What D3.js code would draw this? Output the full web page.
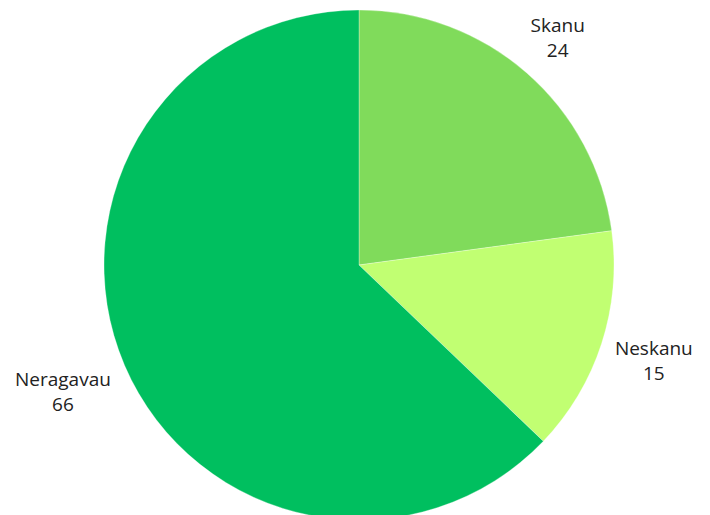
<!DOCTYPE html>
<html>
<head>
<meta charset="utf-8">
<script src="https://cdn.jsdelivr.net/npm/d3@7"></script>
<style>
	body { margin: 0; background: #fff; }
	svg { display: block; }
</style>
</head>
<body>
<svg id="pie-plot" width="710" height="515"></svg>
<script>
const categories = ["Skanu", "Neskanu", "Neragavau"];
const values = [24, 15, 66];
const colors = ["#80db5b", "#c1ff72", "#00bf5f"];

const svg = d3.select('#pie-plot');
const cx = 359, cy = 265, radius = 255;

const pie = d3.pie().sort(null).value(d => d.value);
const data = categories.map((c, i) => ({ name: c, value: values[i], color: colors[i] }));
const arcs = pie(data);

const arc = d3.arc().innerRadius(0).outerRadius(radius);
// labels sit on a ring outside the pie
const label_radius = [302, 310, 322];

const g = svg.append('g').attr('transform', `translate(${cx},${cy})`);

g.selectAll('.slice')
	.data(arcs)
	.enter()
	.append('path')
	.classed('slice', true)
	.attr('d', arc)
	.style('fill', d => d.data.color)
	.style('stroke', '#ffffff')
	.style('stroke-width', 0.6)
	.style('stroke-opacity', 0.5);

const labels = g.selectAll('.label')
	.data(arcs)
	.enter()
	.append('text')
	.classed('label', true)
	.attr('transform', (d, i) => {
		const la = d3.arc().innerRadius(label_radius[i]).outerRadius(label_radius[i]);
		const p = la.centroid(d);
		return `translate(${p[0]},${p[1]})`;
	})
	.attr('text-anchor', 'middle')
	.style('font-family', '"Open Sans", "Liberation Sans", sans-serif')
	.style('font-size', '19px')
	.style('fill', '#222');

labels.append('tspan').attr('x', 0).attr('dy', '-0.3em').text(d => d.data.name);
labels.append('tspan').attr('x', 0).attr('dy', '1.3em').text(d => d.data.value);
</script>
</body>
</html>
